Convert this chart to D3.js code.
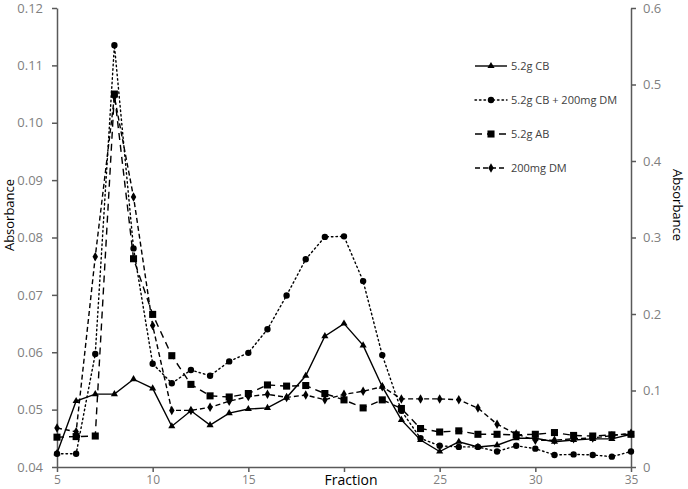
<!DOCTYPE html>
<html>
<head>
<meta charset="utf-8">
<script src="https://cdn.jsdelivr.net/npm/d3@7"></script>
<style>
  body { margin: 0; background: #fff; }
  text { font-family: "Open Sans", "Noto Sans", sans-serif; }
</style>
</head>
<body>
<svg id="chart" width="688" height="489"></svg>
<script>
// fractions collected
const fractions = d3.range(5, 36)

// left axis (absorbance)
const cb = [0.0424, 0.0515, 0.0527, 0.0527, 0.0553, 0.0537, 0.0471, 0.0498, 0.0473, 0.0494,
            0.0501, 0.0503, 0.0521, 0.0559, 0.0628, 0.0650, 0.0612, 0.0540, 0.0482, 0.0447,
            0.0427, 0.0444, 0.0435, 0.0438, 0.0450, 0.0450, 0.0444, 0.0447, 0.0449, 0.0449, 0.0457]
const cbDm = [0.0423, 0.0423, 0.0597, 0.1135, 0.0781, 0.0580, 0.0546, 0.0569, 0.0559, 0.0584,
              0.0599, 0.0640, 0.0699, 0.0762, 0.0801, 0.0802, 0.0724, 0.0595, 0.0498, 0.0450,
              0.0437, 0.0435, 0.0435, 0.0427, 0.0437, 0.0432, 0.0421, 0.0422, 0.0421, 0.0418, 0.0427]
const ab = [0.0452, 0.0453, 0.0454, 0.1050, 0.0763, 0.0666, 0.0594, 0.0544, 0.0524, 0.0522,
            0.0528, 0.0543, 0.0541, 0.0542, 0.0528, 0.0517, 0.0503, 0.0517, 0.0502, 0.0467,
            0.0461, 0.0463, 0.0457, 0.0457, 0.0456, 0.0457, 0.0460, 0.0455, 0.0454, 0.0456, 0.0457]
// right axis (secondary absorbance)
const dm = [0.051, 0.046, 0.275, 0.484, 0.353, 0.185, 0.074, 0.074, 0.078, 0.086,
            0.092, 0.095, 0.091, 0.094, 0.088, 0.095, 0.099, 0.105, 0.089, 0.089,
            0.089, 0.088, 0.077, 0.056, 0.043, 0.035, 0.035, 0.037, 0.038, 0.041, 0.044]

const xTicks = [5, 10, 15, 20, 25, 30, 35]
const leftTicks = [0.04, 0.05, 0.06, 0.07, 0.08, 0.09, 0.10, 0.11, 0.12]
const rightTicks = [0, 0.1, 0.2, 0.3, 0.4, 0.5, 0.6]

const svg = d3.select("#chart")
const margin = {top: 8, right: 57, bottom: 22, left: 57}
const W = 688, H = 489

const x = d3.scaleLinear().domain([5, 35]).range([margin.left, W - margin.right])
const yL = d3.scaleLinear().domain([0.04, 0.12]).range([H - margin.bottom, margin.top])
const yR = d3.scaleLinear().domain([0, 0.6]).range([H - margin.bottom, margin.top])

const axisColor = "#595959"
const labelColor = "#7f7f7f"

// axes
svg.append("g")
   .attr("transform", "translate(" + margin.left + ",0)")
   .call(d3.axisLeft(yL).tickValues(leftTicks).tickFormat(d3.format(".2f")).tickSize(5).tickSizeOuter(0))
   .call(g => g.selectAll("text").attr("fill", labelColor).style("font-size", "13px").attr("dx", "-6"))

svg.append("g")
   .attr("transform", "translate(" + (W - margin.right) + ",0)")
   .call(d3.axisRight(yR).tickValues(rightTicks).tickFormat(d => d === 0 ? "0" : d3.format(".1f")(d)).tickSize(5).tickSizeOuter(0))
   .call(g => g.selectAll("text").attr("fill", labelColor).style("font-size", "13px").attr("dx", "4"))

// the axis title sits on top of the "20" label, as in the original
svg.append("g")
   .attr("transform", "translate(0," + (H - margin.bottom) + ")")
   .call(d3.axisBottom(x).tickValues(xTicks).tickFormat(d => d === 20 ? "" : d).tickSize(5).tickSizeOuter(0))
   .call(g => g.selectAll("text").attr("fill", labelColor).style("font-size", "12px").attr("dy", "0.72em"))

svg.selectAll(".domain, .tick line")
   .attr("stroke", axisColor)
   .attr("stroke-width", 1.5)

// axis titles
svg.append("text")
   .attr("x", 351).attr("y", 485)
   .attr("text-anchor", "middle")
   .style("font-size", "14px")
   .attr("fill", "#000")
   .text("Fraction")

svg.append("text")
   .attr("transform", "translate(14,215) rotate(-90)")
   .attr("text-anchor", "middle")
   .style("font-size", "13px")
   .text("Absorbance")

svg.append("text")
   .attr("transform", "translate(673,205) rotate(90)")
   .attr("text-anchor", "middle")
   .style("font-size", "13px")
   .text("Absorbance")

// series
const series = [
    {name: "5.2g CB", values: cb, y: yL, dash: null, marker: "triangle"},
    {name: "5.2g CB + 200mg DM", values: cbDm, y: yL, dash: "1.5,3", marker: "circle"},
    {name: "5.2g AB", values: ab, y: yL, dash: "7,5", marker: "square"},
    {name: "200mg DM", values: dm, y: yR, dash: "5,3", marker: "diamond"},
]

const symbols = {
    triangle: d3.symbol().type(d3.symbolTriangle).size(22),
    circle: d3.symbol().type(d3.symbolCircle).size(32),
    square: d3.symbol().type(d3.symbolSquare).size(50),
    diamond: d3.symbol().type(d3.symbolDiamond).size(26),
}

const plot = svg.append("g")

series.forEach(s => {
    const line = d3.line()
        .x((d, i) => x(fractions[i]))
        .y(d => s.y(d))

    plot.append("path")
        .datum(s.values)
        .attr("d", line)
        .attr("fill", "none")
        .attr("stroke", "#000")
        .attr("stroke-width", 1.4)
        .attr("stroke-linecap", s.marker === "circle" ? "round" : "butt")
        .attr("stroke-dasharray", s.dash)

    plot.selectAll(null)
        .data(s.values)
        .enter()
        .append("path")
        .attr("transform", (d, i) => "translate(" + x(fractions[i]) + "," + s.y(d) + ")")
        .attr("d", symbols[s.marker])
        .attr("fill", "#000")
})

// legend
const legend = svg.append("g")
  .selectAll("g")
  .data(series)
  .enter()
  .append("g")
  .attr("transform", (s, i) => "translate(475," + (66 + i * 34) + ")")

legend.append("line")
      .attr("x1", 0).attr("x2", 32)
      .attr("stroke", "#000")
      .attr("stroke-width", 1.4)
      .attr("stroke-linecap", s => s.marker === "circle" ? "round" : "butt")
      .attr("stroke-dasharray", s => s.dash)

legend.append("path")
      .attr("transform", "translate(16,0)")
      .attr("d", s => symbols[s.marker]())
      .attr("fill", "#000")

legend.append("text")
      .attr("x", 36)
      .attr("dy", "0.35em")
      .style("font-size", "11px")
      .attr("fill", "#404040")
      .text(s => s.name)
</script>
</body>
</html>
